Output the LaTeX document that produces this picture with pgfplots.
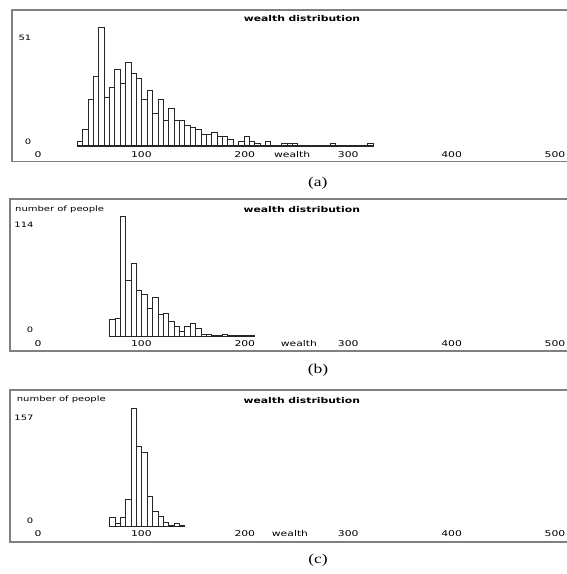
\documentclass[border=0pt]{standalone}
\usepackage{fontspec}
\setmainfont{DejaVu Sans}
\newfontfamily\pf[FakeStretch=1.35]{DejaVu Sans}
\newfontfamily\capf[FakeStretch=1.3]{Liberation Serif}
\usepackage{pgfplots}
\usepackage{pgfplotstable}
\pgfplotsset{compat=1.18}
\newcommand\tk{\pf\fontsize{8}{9}\selectfont}
\newcommand\tl{\pf\bfseries\fontsize{8}{10}\selectfont}
\newcommand\sm{\pf\fontsize{7.4}{8}\selectfont}
\newcommand\capt{\capf\fontsize{13.5}{15}\selectfont}

% bin left edge, count (last row closes the final bin)
\pgfplotstableread{
x y
38.0 2
43.2 7
48.4 20
53.6 30
58.8 51
64.0 21
69.2 25
74.4 33
79.6 27
84.8 36
90.0 31
95.2 29
100.4 20
105.6 24
110.8 14
116.0 20
121.2 11
126.4 16
131.6 11
136.8 11
142.0 9
147.2 8
152.4 7
157.6 5
162.8 5
168.0 6
173.2 4
178.4 4
183.6 3
188.8 0
194.0 2
199.2 4
204.4 2
209.6 1
214.8 0
220.0 2
225.2 0
230.4 0
235.6 1
240.8 1
246.0 1
251.2 0
256.4 0
261.6 0
266.8 0
272.0 0
277.2 0
282.4 1
287.6 0
292.8 0
298.0 0
303.2 0
308.4 0
313.6 0
318.8 1
324.0 0
}\dataA

\pgfplotstableread{
x y
69.2 16
74.4 17
79.6 114
84.8 53
90.0 69
95.2 44
100.4 40
105.6 27
110.8 37
116.0 21
121.2 22
126.4 14
131.6 10
136.8 5
142.0 10
147.2 13
152.4 8
157.6 2
162.8 2
168.0 1
173.2 1
178.4 2
183.6 1
188.8 1
194.0 1
199.2 1
204.4 1
209.6 0
}\dataB

\pgfplotstableread{
x y
69.2 12
74.4 5
79.6 13
84.8 36
90.0 157
95.2 106
100.4 98
105.6 40
110.8 20
116.0 14
121.2 6
126.4 2
131.6 4
136.8 2
142.0 0
}\dataC

\pgfplotsset{
  panel/.style={
    scale only axis,
    anchor=north west,
    xmax=514.5,
    axis line style={black!50, line width=1.1pt},
    xtick={0,100,200,300,400,500},
    xticklabels={0,100,200,300,400,500},
    ytick=\empty,
    xtick style={draw=none},
    clip=false,
  },
  histbars/.style={ybar interval, draw=black!85, fill=white, line width=0.8pt},
  zeroline/.style={draw=black!85, line width=1.1pt, mark=none, sharp plot},
}

\begin{document}
\begin{tikzpicture}[x=1pt,y=1pt]
\path[use as bounding box] (0,0) rectangle (567,-574);

% ---------- (a) ----------
\begin{axis}[panel, at={(12pt,-10pt)}, width=558pt, height=151.5pt,
  xmin=-25.1, ymin=-6.66, ymax=58.44,
  xticklabel style={font=\tk, anchor=center, yshift=6.5pt, text=black}]
\addplot[histbars] table[x=x,y=y] {\dataA};
\addplot[zeroline] coordinates {(38.0,0) (324.0,0)};
\node[font=\tl, text=black] at (axis description cs:0.5197,0.947) {wealth distribution};
\node[font=\sm, text=black] at (axis description cs:0.0233,0.815) {51};
\node[font=\sm, text=black] at (axis description cs:0.0287,0.132) {0};
\node[font=\tk, text=black] at (axis description cs:0.502,0.043) {wealth};
\node[font=\capt] at (axis description cs:0.548,-0.142) {(a)};
\end{axis}

% ---------- (b) ----------
\begin{axis}[panel, at={(10pt,-199pt)}, width=560pt, height=152pt,
  xmin=-27.1, ymin=-13.5, ymax=130.05,
  xticklabel style={font=\tk, anchor=center, yshift=7.5pt, text=black}]
\addplot[histbars] table[x=x,y=y] {\dataB};
\addplot[zeroline] coordinates {(69.2,0) (209.6,0)};
\node[font=\tl, text=black] at (axis description cs:0.521,0.934) {wealth distribution};
\node[font=\sm, text=black, anchor=west] at (axis description cs:0.003,0.928) {number of people};
\node[font=\sm, text=black] at (axis description cs:0.025,0.829) {114};
\node[font=\sm, text=black] at (axis description cs:0.0357,0.138) {0};
\node[font=\tk, text=black] at (axis description cs:0.516,0.049) {wealth};
\node[font=\capt] at (axis description cs:0.55,-0.125) {(b)};
\end{axis}

% ---------- (c) ----------
\begin{axis}[panel, at={(10pt,-390pt)}, width=560pt, height=152pt,
  xmin=-27.1, ymin=-20.2, ymax=180.8,
  xticklabel style={font=\tk, anchor=center, yshift=8pt, text=black}]
\addplot[histbars] table[x=x,y=y] {\dataC};
\addplot[zeroline] coordinates {(69.2,0) (142.0,0)};
\node[font=\tl, text=black] at (axis description cs:0.521,0.934) {wealth distribution};
\node[font=\sm, text=black, anchor=west] at (axis description cs:0.006,0.941) {number of people};
\node[font=\sm, text=black] at (axis description cs:0.025,0.818) {157};
\node[font=\sm, text=black] at (axis description cs:0.0357,0.14) {0};
\node[font=\tk, text=black] at (axis description cs:0.5,0.053) {wealth};
\node[font=\capt] at (axis description cs:0.55,-0.118) {(c)};
\end{axis}
\end{tikzpicture}
\end{document}
